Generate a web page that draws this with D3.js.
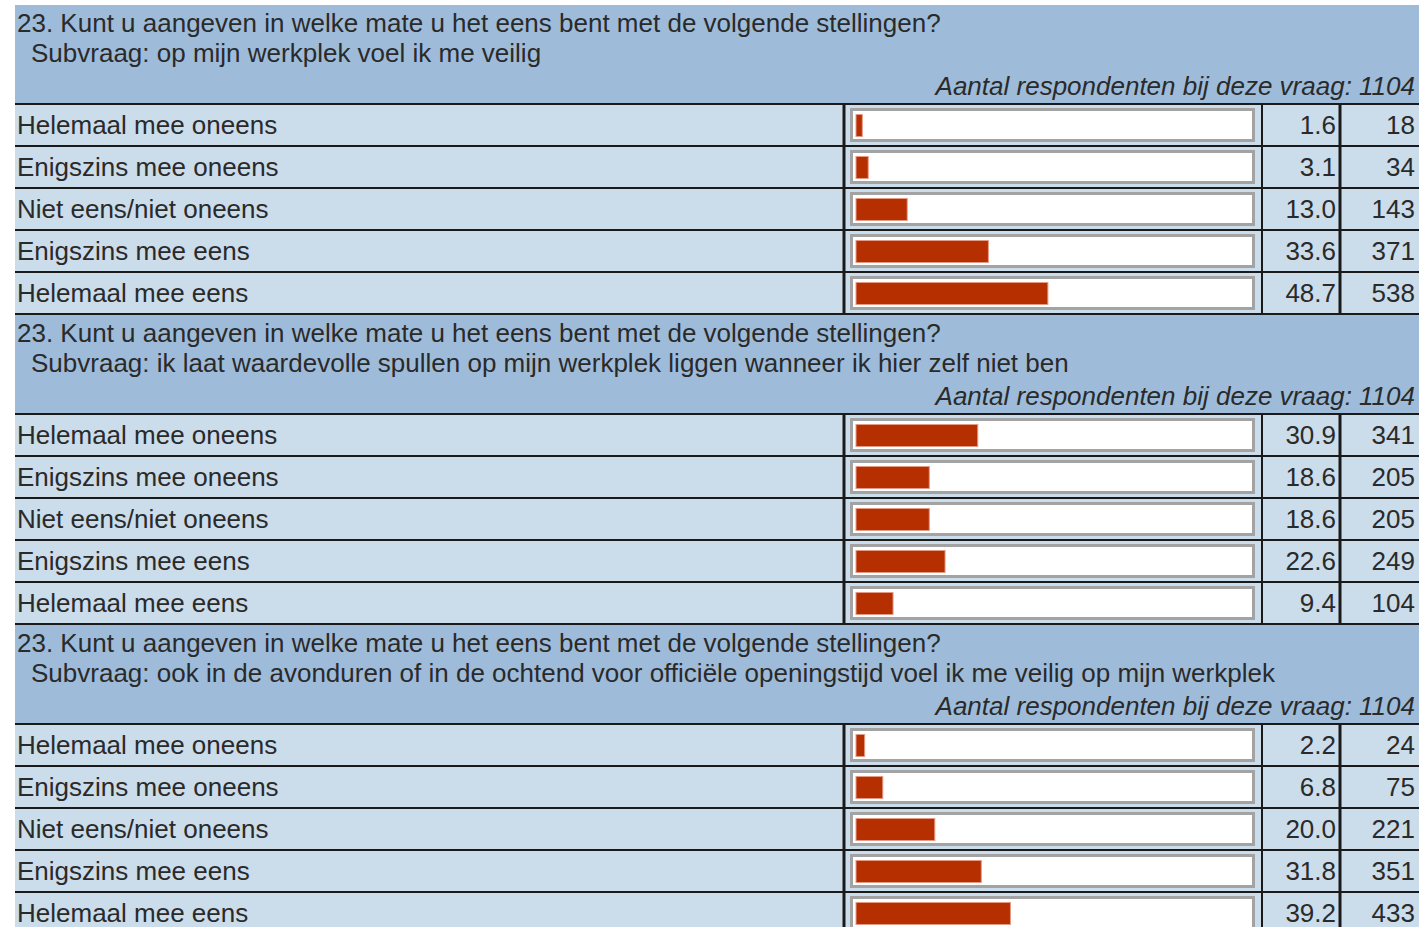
<!DOCTYPE html>
<html><head><meta charset="utf-8">
<script src="https://cdn.jsdelivr.net/npm/d3@7"></script>
<style>body{margin:0;background:#fff;}svg{display:block;}</style>
</head><body>
<script>
const question = "23. Kunt u aangeven in welke mate u het eens bent met de volgende stellingen?";
const subquestions = [
  "Subvraag: op mijn werkplek voel ik me veilig",
  "Subvraag: ik laat waardevolle spullen op mijn werkplek liggen wanneer ik hier zelf niet ben",
  "Subvraag: ook in de avonduren of in de ochtend voor officiële openingstijd voel ik me veilig op mijn werkplek"
];
const respondents = [1104, 1104, 1104];
const categories = ["Helemaal mee oneens","Enigszins mee oneens","Niet eens/niet oneens","Enigszins mee eens","Helemaal mee eens"];
const percent1 = [1.6, 3.1, 13.0, 33.6, 48.7];
const count1 = [18, 34, 143, 371, 538];
const percent2 = [30.9, 18.6, 18.6, 22.6, 9.4];
const count2 = [341, 205, 205, 249, 104];
const percent3 = [2.2, 6.8, 20.0, 31.8, 39.2];
const count3 = [24, 75, 221, 351, 433];

const percents = [percent1, percent2, percent3];
const counts = [count1, count2, count3];

const W = 1419, H = 927;
const svg = d3.select("body").append("svg").attr("width", W).attr("height", H);

const left = 15, right = 1419, top0 = 5;
const headerH = 99, rowH = 42, sectionH = 310;
const colBar = 844, colPct = 1262, colCnt = 1340;
const x = d3.scaleLinear().domain([0, 100]).range([856, 1250]);
const y = d3.scaleBand().domain(categories).range([0, rowH * categories.length]).padding(0);

const FONT = "Liberation Sans, Arial, sans-serif";
const FS = 26;
const headerBlue = "#9ebcd9", rowBlue = "#cbdcea", lineCol = "#1a1a1a", textCol = "#2a2a2a";

subquestions.forEach((sq, i) => {
  const g = svg.append("g").attr("transform", `translate(0,${top0 + i * sectionH})`);
  g.append("rect").attr("x", left).attr("y", 0).attr("width", right - left).attr("height", headerH).attr("fill", headerBlue);
  g.append("text").attr("x", left + 2).attr("y", 27).attr("font-family", FONT).attr("font-size", FS).attr("fill", textCol).text(question);
  g.append("text").attr("x", left + 16).attr("y", 57).attr("font-family", FONT).attr("font-size", FS).attr("fill", textCol).text(sq);
  g.append("text").attr("x", right - 4).attr("y", 90).attr("text-anchor", "end").attr("font-style", "italic").attr("font-family", FONT).attr("font-size", FS).attr("fill", textCol).text("Aantal respondenten bij deze vraag: " + respondents[i]);

  const rows = g.append("g").attr("transform", `translate(0,${headerH})`);
  rows.append("rect").attr("x", left).attr("y", 0).attr("width", right - left).attr("height", rowH * categories.length).attr("fill", rowBlue);

  categories.forEach((c, j) => {
    const ry = y(c);
    rows.append("text").attr("x", left + 2).attr("y", ry + 30).attr("font-family", FONT).attr("font-size", FS).attr("fill", textCol).text(c);
    rows.append("rect").attr("x", 851.5).attr("y", ry + 5.5).attr("width", 402).attr("height", 31)
      .attr("fill", "#fff").attr("stroke", "#a3a3a3").attr("stroke-width", 3);
    rows.append("rect").attr("x", x(0)).attr("y", ry + 10.5).attr("width", x(percents[i][j]) - x(0)).attr("height", 22)
      .attr("fill", "#b52f00").attr("stroke", "#e59a85").attr("stroke-width", 1);
    rows.append("text").attr("x", colCnt - 4).attr("y", ry + 30).attr("text-anchor", "end").attr("font-family", FONT).attr("font-size", FS).attr("fill", textCol).text(percents[i][j].toFixed(1));
    rows.append("text").attr("x", right - 4).attr("y", ry + 30).attr("text-anchor", "end").attr("font-family", FONT).attr("font-size", FS).attr("fill", textCol).text(counts[i][j]);
  });

  for (let j = 0; j <= categories.length; j++) {
    rows.append("line").attr("x1", left).attr("x2", right).attr("y1", j * rowH).attr("y2", j * rowH)
      .attr("stroke", lineCol).attr("stroke-width", 2);
  }
  [colBar, colPct, colCnt].forEach((cx, k) => {
    rows.append("line").attr("x1", cx).attr("x2", cx).attr("y1", 0).attr("y2", rowH * categories.length)
      .attr("stroke", lineCol).attr("stroke-width", k === 1 ? 2 : 3);
  });
});
</script>
</body></html>
